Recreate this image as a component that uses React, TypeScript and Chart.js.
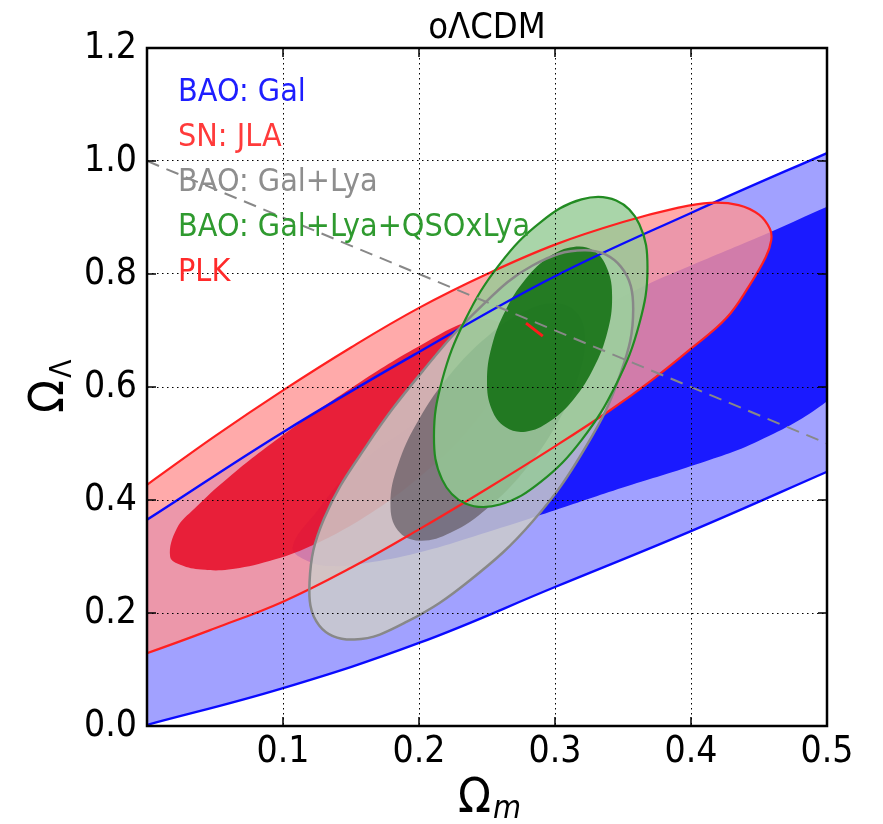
import React, { useEffect, useRef } from 'react';
import { Chart, registerables } from 'chart.js';

Chart.register(...registerables);

type P = [number, number];

const FONT = "'DejaVu Sans Condensed', Roboto, sans-serif";
const TITLE = 'oΛCDM';

const xTickValues = [0.1, 0.2, 0.3, 0.4, 0.5];
const xTickLabels = ['0.1', '0.2', '0.3', '0.4', '0.5'];
const yTickValues = [0, 0.2, 0.4, 0.6, 0.8, 1.0, 1.2];
const yTickLabels = ['0.0', '0.2', '0.4', '0.6', '0.8', '1.0', '1.2'];

const legendLabels = ['BAO: Gal', 'SN: JLA', 'BAO: Gal+Lya', 'BAO: Gal+Lya+QSOxLya', 'PLK'];
const legendColors = ['#1e1eff', '#ff3a3a', '#8e8e8e', '#2f9a2f', '#ff2a2a'];

// BAO: Gal — 2σ band edges (run past the frame) and 1σ region
const blueUpper: P[] = [
  [-0.1, 0.21], [-0.05, 0.288], [0, 0.365], [0.1, 0.52], [0.2, 0.662], [0.3, 0.796],
  [0.4, 0.908], [0.5, 1.014], [0.55, 1.066], [0.6, 1.117],
];
const blueLower: P[] = [
  [-0.1, -0.06], [-0.05, -0.03], [0, 0.002], [0.1, 0.067], [0.2, 0.147], [0.3, 0.246],
  [0.4, 0.345], [0.5, 0.45], [0.55, 0.503], [0.6, 0.556],
];
const blueInner: P[] = [
  [0.107, 0.316], [0.118, 0.292], [0.135, 0.283], [0.16, 0.288], [0.2, 0.307], [0.25, 0.343],
  [0.3, 0.382], [0.35, 0.422], [0.4, 0.46], [0.45, 0.505], [0.5, 0.575], [0.535, 0.66],
  [0.55, 0.78], [0.545, 0.9], [0.525, 0.945], [0.5, 0.919], [0.458, 0.874], [0.4, 0.815],
  [0.36, 0.772], [0.3, 0.69], [0.25, 0.615], [0.2, 0.54], [0.151, 0.453], [0.125, 0.38],
];

// SN: JLA
const redOuter: P[] = [
  [0, 0.427], [0.05, 0.513], [0.1, 0.594], [0.15, 0.67], [0.2, 0.74], [0.25, 0.8], [0.3, 0.852],
  [0.35, 0.892], [0.39, 0.917], [0.414, 0.926], [0.435, 0.922], [0.45, 0.905], [0.458, 0.88],
  [0.459, 0.86], [0.455, 0.83], [0.443, 0.78], [0.426, 0.722], [0.4, 0.668], [0.37, 0.61],
  [0.34, 0.558], [0.3, 0.495], [0.25, 0.42], [0.2, 0.348], [0.15, 0.28], [0.1, 0.22],
  [0.05, 0.173], [0, 0.129], [-0.05, 0.09], [-0.09, 0.13], [-0.1, 0.22], [-0.05, 0.342],
];
const redInner: P[] = [
  [0.017, 0.3], [0.025, 0.285], [0.04, 0.277], [0.06, 0.277], [0.09, 0.292], [0.12, 0.318],
  [0.16, 0.37], [0.2, 0.44], [0.235, 0.52], [0.258, 0.6], [0.268, 0.67], [0.262, 0.71],
  [0.24, 0.718], [0.2, 0.672], [0.15, 0.598], [0.1, 0.515], [0.06, 0.44], [0.035, 0.385],
  [0.022, 0.35],
];

// BAO: Gal+Lya
const grayOuter: P[] = [
  [0.3575, 0.738], [0.3484, 0.625], [0.3224, 0.493], [0.2835, 0.362], [0.2375, 0.258],
  [0.1915, 0.185], [0.1526, 0.153], [0.1266, 0.178], [0.1195, 0.254], [0.13, 0.366],
  [0.162, 0.498], [0.203, 0.629], [0.245, 0.741], [0.2835, 0.815], [0.3224, 0.842],
  [0.3484, 0.813],
];
const grayInner: P[] = [
  [0.322, 0.683], [0.3165, 0.614], [0.301, 0.533], [0.2779, 0.453], [0.2505, 0.386],
  [0.2231, 0.342], [0.2, 0.328], [0.1845, 0.346], [0.179, 0.393], [0.1845, 0.462],
  [0.2, 0.543], [0.2231, 0.623], [0.2505, 0.69], [0.2779, 0.734], [0.301, 0.748],
  [0.3165, 0.73],
];

// BAO: Gal+Lya+QSOxLya
const greenOuter: P[] = [
  [0.368, 0.811], [0.362, 0.712], [0.345, 0.605], [0.3195, 0.506], [0.2895, 0.432],
  [0.2595, 0.392], [0.234, 0.394], [0.217, 0.436], [0.211, 0.513], [0.217, 0.612],
  [0.234, 0.719], [0.2595, 0.818], [0.2895, 0.892], [0.3195, 0.932], [0.345, 0.93],
  [0.362, 0.888],
];
const greenInner: P[] = [
  [0.342, 0.759], [0.3385, 0.697], [0.3285, 0.634], [0.3136, 0.578], [0.296, 0.539],
  [0.2784, 0.521], [0.2635, 0.529], [0.2535, 0.56], [0.25, 0.61], [0.2535, 0.672],
  [0.2635, 0.735], [0.2784, 0.791], [0.296, 0.831], [0.3136, 0.848], [0.3285, 0.841],
  [0.3385, 0.809],
];

// PLK
const plkSegment: P[] = [[0.2787, 0.713], [0.291, 0.69]];

// flat universe line
const flatLine: P[] = [[0, 1.0], [0.5, 0.5]];

const toXY = (pts: P[]) => pts.map(([x, y]) => ({ x, y }));

function fillSet(pts: P[], color: string, order: number) {
  return {
    data: toXY(pts),
    closed: true,
    showLine: true,
    fill: 'shape',
    backgroundColor: color,
    borderWidth: 0,
    borderColor: 'rgba(0,0,0,0)',
    pointRadius: 0,
    pointHoverRadius: 0,
    tension: 0.4,
    order,
  };
}

function lineSet(pts: P[], color: string, width: number, order: number, closed = true, tension = 0.4, dash: number[] = []) {
  return {
    data: toXY(pts),
    closed,
    showLine: true,
    fill: false,
    borderColor: color,
    backgroundColor: color,
    borderWidth: width,
    borderDash: dash,
    pointRadius: 0,
    pointHoverRadius: 0,
    tension,
    order,
  };
}

// make closed contours smooth loops using the line element's own loop support
const closeLoops = {
  id: 'closeLoops',
  afterDatasetsUpdate(chart: any) {
    chart.data.datasets.forEach((ds: any, i: number) => {
      if (!ds.closed) return;
      const line = chart.getDatasetMeta(i).dataset;
      if (!line) return;
      line._loop = true;
      line._fullLoop = true;
      line._segments = undefined;
      line._path = undefined;
      line._pointsUpdated = false;
      line.updateControlPoints(chart.chartArea, 'x');
    });
  },
};

const overlay = {
  id: 'overlay',
  afterDraw(chart: any) {
    const { ctx, chartArea: a, scales } = chart;
    ctx.save();
    ctx.strokeStyle = '#000';
    ctx.lineWidth = 1.5;
    ctx.setLineDash([]);
    for (const v of xTickValues) {
      const px = scales.x.getPixelForValue(v);
      ctx.beginPath();
      ctx.moveTo(px, a.bottom);
      ctx.lineTo(px, a.bottom - 9);
      ctx.moveTo(px, a.top);
      ctx.lineTo(px, a.top + 9);
      ctx.stroke();
    }
    for (const v of yTickValues) {
      const py = scales.y.getPixelForValue(v);
      ctx.beginPath();
      ctx.moveTo(a.left, py);
      ctx.lineTo(a.left + 9, py);
      ctx.moveTo(a.right, py);
      ctx.lineTo(a.right - 9, py);
      ctx.stroke();
    }
    ctx.lineWidth = 2.5;
    ctx.strokeRect(a.left, a.top, a.right - a.left, a.bottom - a.top);

    // title
    ctx.fillStyle = '#000';
    ctx.font = `36px ${FONT}`;
    ctx.textAlign = 'center';
    ctx.textBaseline = 'alphabetic';
    ctx.fillText(TITLE, (a.left + a.right) / 2, 38);

    // legend texts
    ctx.textAlign = 'left';
    ctx.font = `32px ${FONT}`;
    legendLabels.forEach((t, i) => {
      ctx.fillStyle = legendColors[i];
      ctx.fillText(t, a.left + 31, a.top + 53 + i * 45);
    });

    // x label
    ctx.fillStyle = '#000';
    ctx.font = `48px ${FONT}`;
    ctx.fillText('Ω', 458, 812);
    const wO = ctx.measureText('Ω').width;
    ctx.font = `italic 32px ${FONT}`;
    ctx.fillText('m', 458 + wO + 2, 818);

    // y label
    ctx.save();
    ctx.translate(63, 413);
    ctx.rotate(-Math.PI / 2);
    ctx.font = `48px ${FONT}`;
    ctx.fillText('Ω', 0, 0);
    const wY = ctx.measureText('Ω').width;
    ctx.font = `30px ${FONT}`;
    ctx.fillText('Λ', wY + 2, 8);
    ctx.restore();

    ctx.restore();
  },
};

export default function App() {
  const ref = useRef<HTMLCanvasElement | null>(null);
  useEffect(() => {
    if (!ref.current) return;
    const band: P[] = [...blueUpper, ...[...blueLower].reverse()];
    const datasets: any[] = [
      lineSet(plkSegment, '#ff1a1a', 3, 0, false, 0),
      lineSet(flatLine, '#888888', 2, 1, false, 0, [13, 8]),
      lineSet(greenOuter, '#228b22', 2.2, 2),
      lineSet(grayOuter, '#888888', 2.5, 3),
      lineSet(redOuter, '#ff2020', 2.2, 4),
      lineSet(blueUpper, '#0a0aff', 2.4, 5, false),
      lineSet(blueLower, '#0a0aff', 2.4, 6, false),
      fillSet(greenInner, 'rgba(18,112,18,0.88)', 10),
      fillSet(greenOuter, 'rgba(150,204,150,0.82)', 11),
      fillSet(grayInner, 'rgba(100,92,100,0.72)', 12),
      fillSet(grayOuter, 'rgba(204,205,202,0.83)', 13),
      fillSet(redInner, 'rgba(231,5,32,0.82)', 14),
      fillSet(redOuter, 'rgba(255,149,149,0.8)', 15),
      fillSet(blueInner, 'rgba(0,0,255,0.84)', 16),
      fillSet(band, 'rgba(0,0,255,0.37)', 17),
    ];
    const chart = new Chart(ref.current, {
      type: 'scatter',
      data: { datasets },
      options: {
        animation: false,
        responsive: false,
        events: [],
        layout: { padding: { top: 48, right: 56, left: 0, bottom: 0 } },
        elements: { line: { capBezierPoints: false } },
        plugins: { legend: { display: false }, tooltip: { enabled: false }, title: { display: false } },
        scales: {
          x: {
            type: 'linear',
            min: 0,
            max: 0.5,
            afterBuildTicks: (s: any) => {
              s.ticks = xTickValues.map((value) => ({ value }));
            },
            afterFit: (s: any) => {
              s.height = 98;
            },
            ticks: {
              callback: (_v: any, i: number) => xTickLabels[i],
              font: { family: FONT, size: 37 },
              color: '#000',
              padding: 4,
              maxRotation: 0,
              autoSkip: false,
            },
            grid: { color: '#000', lineWidth: 1, drawTicks: false, z: 1 },
            border: { display: false, dash: [1.5, 3.5] },
          },
          y: {
            type: 'linear',
            min: 0,
            max: 1.2,
            afterBuildTicks: (s: any) => {
              s.ticks = yTickValues.map((value) => ({ value }));
            },
            afterFit: (s: any) => {
              s.width = 147;
            },
            ticks: {
              callback: (_v: any, i: number) => yTickLabels[i],
              font: { family: FONT, size: 37 },
              color: '#000',
              padding: 10,
              autoSkip: false,
            },
            grid: { color: '#000', lineWidth: 1, drawTicks: false, z: 1 },
            border: { display: false, dash: [1.5, 3.5] },
          },
        },
      },
      plugins: [closeLoops, overlay],
    } as any);
    return () => chart.destroy();
  }, []);
  return (
    <div style={{ position: 'fixed', left: 0, top: 0, width: 883, height: 824, background: '#fff' }}>
      <canvas ref={ref} width={883} height={824} />
    </div>
  );
}
